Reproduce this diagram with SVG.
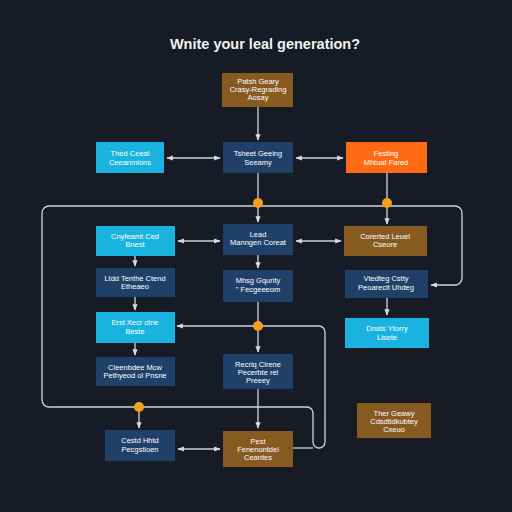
<svg xmlns="http://www.w3.org/2000/svg" width="512" height="512" viewBox="0 0 512 512">
<defs>
<marker id="ah" viewBox="0 0 10 10" refX="9" refY="5" markerWidth="5" markerHeight="5" orient="auto-start-reverse">
<path d="M0,1 L10,5 L0,9 z" fill="#d8dce2"/>
</marker>
<style>
.ln{fill:none;stroke:#cfd3da;stroke-width:1.3}
.ar{marker-end:url(#ah)}
.bi{marker-start:url(#ah);marker-end:url(#ah)}
.t{font-family:"Liberation Sans",Arial,sans-serif;font-size:7.5px;fill:#ffffff;text-anchor:middle}
.cy{fill:#1ab3e0}
.nv{fill:#1f4068}
.br{fill:#875a22}
.or{fill:#ff6b12}
.dot{fill:#f5a01a}
</style>
</defs>
<rect width="512" height="512" fill="#161b26"/>
<text x="265" y="49" font-family="Liberation Sans,Arial,sans-serif" font-size="14.5" font-weight="bold" fill="#f2f2f2" text-anchor="middle">Wnite your leal generation?</text>

<g id="connectors">
<path class="ln ar" d="M258,107 V140"/>
<path class="ln bi" d="M167,158 H220"/>
<path class="ln bi" d="M296,158 H343"/>
<path class="ln ar" d="M258,173 V222"/>
<path class="ln ar" d="M387,173 V224"/>
<path class="ln ar" d="M49,206 H455 a7,7 0 0 1 7,7 V278 a7,7 0 0 1 -7,7 H431"/>
<path class="ln" d="M49,206 a7,7 0 0 0 -7,7 V400 a7,7 0 0 0 7,7 H307 a6,6 0 0 1 6,6 V442 a6,6 0 0 0 6,6 a6,6 0 0 0 6,-6 V332 a6,6 0 0 0 -6,-6 H258"/>
<path class="ln ar" d="M258,326 H177"/>
<path class="ln" d="M293,448 H313"/>
<path class="ln bi" d="M178,241 H220"/>
<path class="ln bi" d="M296,241 H341"/>
<path class="ln ar" d="M135,256 V266"/>
<path class="ln ar" d="M135,297 V310"/>
<path class="ln ar" d="M135,343 V355"/>
<path class="ln ar" d="M258,255 V268"/>
<path class="ln ar" d="M258,302 V352"/>
<path class="ln ar" d="M258,389 V428"/>
<path class="ln ar" d="M387,298 V315"/>
<path class="ln ar" d="M139,407 V428"/>
<path class="ln bi" d="M178,449 H220"/>
<circle class="dot" cx="258" cy="203" r="5"/>
<circle class="dot" cx="387" cy="203" r="5"/>
<circle class="dot" cx="258" cy="326" r="5"/>
<circle class="dot" cx="139" cy="407" r="5"/>
</g>

<g id="n1"><rect class="br" x="222" y="73" width="71" height="34"/><text class="t" x="258" y="84">Patsh Geary</text><text class="t" x="258" y="92">Crasy-Regrading</text><text class="t" x="258" y="100">Aosay</text></g>
<g id="n2"><rect class="cy" x="96" y="142" width="68" height="31"/><text class="t" x="130" y="156">Thed Ceeal</text><text class="t" x="130" y="165">Ceeanmions</text></g>
<g id="n3"><rect class="nv" x="223" y="142" width="70" height="31"/><text class="t" x="258" y="156">Tsheet Geeing</text><text class="t" x="258" y="165">Seeamy</text></g>
<g id="n4"><rect class="or" x="346" y="142" width="81" height="31"/><text class="t" x="386" y="156">Festing</text><text class="t" x="386" y="165">Mhtuat Fared</text></g>
<g id="n5"><rect class="cy" x="96" y="226" width="79" height="30"/><text class="t" x="135" y="239">Cnyfeamt Ced</text><text class="t" x="135" y="247">Bnest</text></g>
<g id="n6"><rect class="nv" x="223" y="224" width="70" height="31"/><text class="t" x="258" y="237">Lead</text><text class="t" x="258" y="245">Manngen Coreat</text></g>
<g id="n7"><rect class="br" x="344" y="226" width="83" height="30"/><text class="t" x="385" y="239">Corerted Leuel</text><text class="t" x="385" y="247">Cseore</text></g>
<g id="n8"><rect class="nv" x="96" y="268" width="79" height="29"/><text class="t" x="135" y="281">Ltdd Tenthe Ctend</text><text class="t" x="135" y="289">Etheaeo</text></g>
<g id="n9"><rect class="nv" x="223" y="270" width="70" height="32"/><text class="t" x="258" y="283">Mhsg Gqurity</text><text class="t" x="258" y="292">" Fecgeeeom</text></g>
<g id="n10"><rect class="nv" x="345" y="270" width="83" height="28"/><text class="t" x="386" y="281">Vtedteg Cstty</text><text class="t" x="386" y="290">Peoareclt Uhdeg</text></g>
<g id="n11"><rect class="cy" x="96" y="312" width="79" height="31"/><text class="t" x="135" y="325">Erst Xecr ctne</text><text class="t" x="135" y="334">Beste</text></g>
<g id="n12"><rect class="cy" x="345" y="318" width="84" height="30"/><text class="t" x="387" y="331">Dnats Ytorry</text><text class="t" x="387" y="340">Lisete</text></g>
<g id="n13"><rect class="nv" x="96" y="357" width="79" height="29"/><text class="t" x="135" y="370">Cleenbdee Mcw</text><text class="t" x="135" y="378">Pethyeod ol Pnsne</text></g>
<g id="n14"><rect class="nv" x="223" y="354" width="70" height="35"/><text class="t" x="258" y="367">Recriq Cirene</text><text class="t" x="258" y="375">Pecerbte rel</text><text class="t" x="258" y="383">Preeey</text></g>
<g id="n15"><rect class="br" x="357" y="403" width="74" height="35"/><text class="t" x="394" y="416">Ther Geawy</text><text class="t" x="394" y="424">Cdsdtidkubtey</text><text class="t" x="394" y="432">Cxeuo</text></g>
<g id="n16"><rect class="nv" x="105" y="430" width="70" height="31"/><text class="t" x="140" y="443">Cestd Hhtd</text><text class="t" x="140" y="452">Pecgstioen</text></g>
<g id="n17"><rect class="br" x="223" y="431" width="70" height="36"/><text class="t" x="258" y="444">Pest</text><text class="t" x="258" y="452">Fenenontdel</text><text class="t" x="258" y="460">Ceantes</text></g>
</svg>
